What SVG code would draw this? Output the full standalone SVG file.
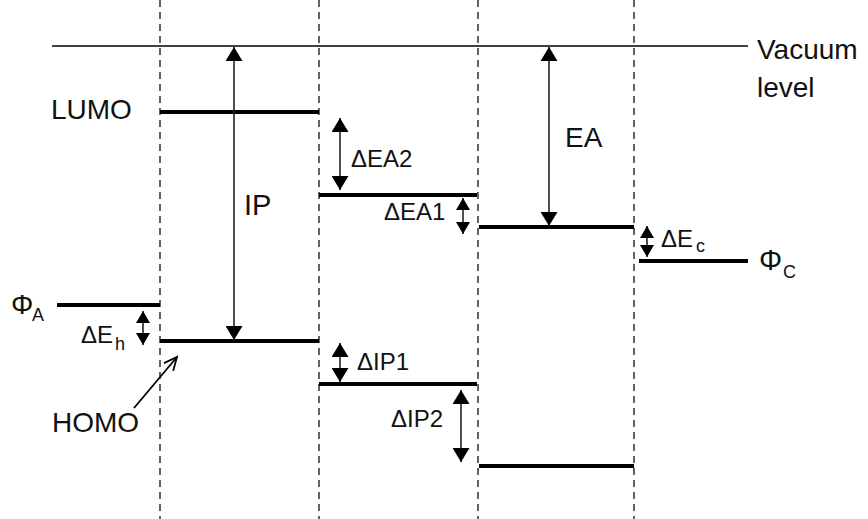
<svg xmlns="http://www.w3.org/2000/svg" width="868" height="519" viewBox="0 0 868 519">
<style>
.bg{fill:#fff}
.dash{stroke:#222;stroke-width:1.4;stroke-dasharray:7,5;fill:none}
.vac{stroke:#000;stroke-width:1.5;fill:none}
.lvl{stroke:#000;stroke-width:4;fill:none}
.arr{stroke:#222;stroke-width:1.6;fill:none;marker-start:url(#ah);marker-end:url(#ah)}
.arrs{stroke:#222;stroke-width:1.6;fill:none;marker-start:url(#as);marker-end:url(#as)}
.ptr{stroke:#000;stroke-width:1.8;fill:none;marker-end:url(#ao)}
text{font-family:"Liberation Sans",Arial,sans-serif;fill:#111}
.big{font-size:28px}
.sm{font-size:24px}
.sub{font-size:18px}
</style>
<defs>
<marker id="ah" markerUnits="userSpaceOnUse" markerWidth="15" markerHeight="17" refX="14" refY="8.5" orient="auto-start-reverse"><path d="M0,0 L14,8.5 L0,17 z" fill="#000"/></marker>
<marker id="as" markerUnits="userSpaceOnUse" markerWidth="13" markerHeight="14" refX="12" refY="7" orient="auto-start-reverse"><path d="M0,0 L12,7 L0,14 z" fill="#000"/></marker>
<marker id="ao" markerUnits="userSpaceOnUse" markerWidth="16" markerHeight="14" refX="14" refY="7" orient="auto"><path d="M1,1 L14,7 L1,13" fill="none" stroke="#000" stroke-width="1.8"/></marker>
</defs>
<rect class="bg" x="0" y="0" width="868" height="519"/>
<g id="boundaries">
<line class="dash" x1="160" y1="0" x2="160" y2="519"/>
<line class="dash" x1="319" y1="0" x2="319" y2="519"/>
<line class="dash" x1="478" y1="0" x2="478" y2="519"/>
<line class="dash" x1="634" y1="0" x2="634" y2="519"/>
</g>
<g id="vacuum">
<line class="vac" x1="52" y1="46" x2="748" y2="46"/>
<text class="big" x="757" y="59">Vacuum</text>
<text class="big" x="757" y="97">level</text>
</g>
<g id="anode">
<line class="lvl" x1="57" y1="305" x2="160" y2="305"/>
<text class="big" x="11" y="314">Φ</text>
<text class="sub" x="32" y="321">A</text>
</g>
<g id="layer1">
<line class="lvl" x1="160" y1="112" x2="319" y2="112"/>
<line class="lvl" x1="160" y1="341" x2="319" y2="341"/>
<text class="big" x="51" y="119">LUMO</text>
<text class="big" x="52" y="432">HOMO</text>
<text x="244" y="215" style="font-size:29px">IP</text>
</g>
<g id="layer2">
<line class="lvl" x1="319" y1="195" x2="477" y2="195"/>
<line class="lvl" x1="319" y1="384" x2="477" y2="384"/>
</g>
<g id="layer3">
<line class="lvl" x1="479" y1="227" x2="634" y2="227"/>
<line class="lvl" x1="479" y1="466" x2="634" y2="466"/>
<text class="big" x="565" y="147">EA</text>
</g>
<g id="cathode">
<line class="lvl" x1="639" y1="261" x2="748" y2="261"/>
<text x="759" y="270" style="font-size:29px">Φ</text>
<text class="sub" x="783" y="278">C</text>
</g>
<g id="connectors">
<line class="arr" x1="234" y1="47" x2="234" y2="340"/>
<line class="arr" x1="549" y1="47" x2="549" y2="226"/>
<line class="arr" x1="340" y1="118" x2="340" y2="190"/>
<line class="arr" x1="340" y1="343" x2="340" y2="382"/>
<line class="arr" x1="461" y1="390" x2="461" y2="462"/>
<line class="arrs" x1="463" y1="198" x2="463" y2="234"/>
<line class="arrs" x1="647" y1="226" x2="647" y2="257"/>
<line class="arrs" x1="143" y1="311" x2="143" y2="345"/>
<line class="ptr" x1="134" y1="408" x2="177" y2="357"/>
</g>
<g id="labels">
<text class="sm" x="351" y="167">ΔEA2</text>
<text class="sm" x="384" y="220">ΔEA1</text>
<text class="sm" x="357" y="370">ΔIP1</text>
<text class="sm" x="391" y="427">ΔIP2</text>
<text class="sm" x="81" y="343">ΔE</text>
<text class="sub" x="115" y="350">h</text>
<text class="sm" x="661" y="247">ΔE</text>
<text class="sub" x="696" y="252">c</text>
</g>
</svg>
